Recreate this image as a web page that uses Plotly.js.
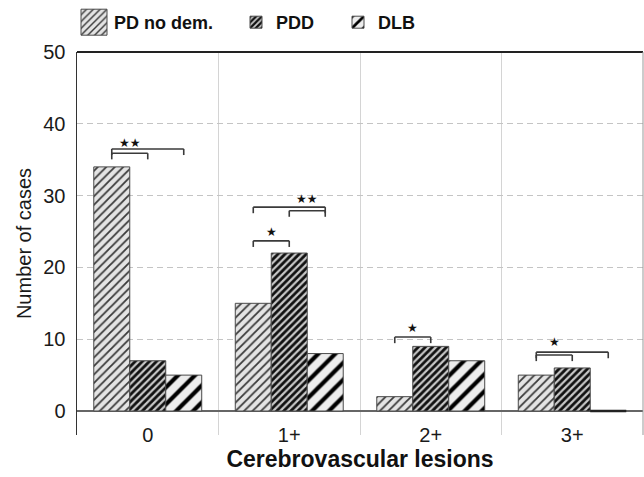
<!DOCTYPE html>
<html>
<head>
<meta charset="utf-8">
<script src="https://cdn.plot.ly/plotly-3.0.1.min.js"></script>
<style>html,body{margin:0;padding:0;background:#fff;}#chart{width:644px;height:477px;}</style>
</head>
<body>
<div id="chart"></div>
<script>
// ---- data ----
const categories = ['0', '1+', '2+', '3+'];
const seriesNames = ['PD no dem.', 'PDD', 'DLB'];
const pdNoDem = [34, 15, 2, 5];
const pdd = [7, 22, 9, 6];
const dlb = [5, 8, 7, 0];

// significance brackets: category, series index from/to, level (cases)
const bracketCat = ['0', '0', '1+', '1+', '1+', '2+', '3+', '3+'];
const bracketFrom = [0, 0, 0, 1, 0, 0, 0, 0];
const bracketTo = [2, 1, 2, 2, 1, 1, 2, 1];
const bracketLevel = [36.5, 35.9, 28.4, 27.9, 23.7, 10.3, 8.2, 7.8];

// star labels: text, category, between series from/to, level
const starText = ['★★', '★★', '★', '★', '★'];
const starCat = ['0', '1+', '1+', '2+', '3+'];
const starFrom = [0, 1, 0, 0, 0];
const starTo = [1, 2, 1, 1, 1];
const starLevel = [37.3, 29.5, 24.9, 11.6, 9.6];

// ---- styles ----
const patterns = [
  {shape: '/', fgcolor: '#3a3a3a', bgcolor: '#e4e4e4', size: 6, solidity: 0.3},
  {shape: '/', fgcolor: '#111111', bgcolor: '#c8c8c8', size: 5, solidity: 0.55},
  {shape: '/', fgcolor: '#000000', bgcolor: '#ededed', size: 12, solidity: 0.35}
];
const values = [pdNoDem, pdd, dlb];
const legendIds = ['legend', 'legend2', 'legend3'];
const legendX = [74, 236, 338];
const bargap = 0.237;

const traces = seriesNames.map((name, i) => ({
  type: 'bar', name: name, x: categories, y: values[i],
  legend: legendIds[i],
  marker: {color: patterns[i].bgcolor, pattern: patterns[i], line: {color: '#4a4a4a', width: 1}},
  hoverinfo: 'skip'
}));

const barW = (1 - bargap) / 3;
function xPos(cat, s) { return categories.indexOf(cat) + (s - 1) * barW; }

const shapes = [];
// zero-valued bars are drawn as a flat outline at the baseline
values.forEach((vals, s) => vals.forEach((v, c) => {
  if (v === 0) {
    const xc = xPos(categories[c], s);
    shapes.push({type: 'line', xref: 'x', yref: 'y', x0: xc - barW / 2, x1: xc + barW / 2, y0: v, y1: v,
      line: {color: '#222', width: 2.5}});
  }
}));
const tick = 0.85;
const lineStyle = {color: '#3a3a3a', width: 1.6};
for (let k = 0; k < bracketCat.length; k++) {
  const xa = xPos(bracketCat[k], bracketFrom[k]);
  const xb = xPos(bracketCat[k], bracketTo[k]);
  const y = bracketLevel[k];
  shapes.push({type: 'line', xref: 'x', yref: 'y', x0: xa, x1: xa, y0: y - tick, y1: y, line: lineStyle});
  shapes.push({type: 'line', xref: 'x', yref: 'y', x0: xa, x1: xb, y0: y, y1: y, line: lineStyle});
  shapes.push({type: 'line', xref: 'x', yref: 'y', x0: xb, x1: xb, y0: y - tick, y1: y, line: lineStyle});
}
// frame: top and right
shapes.push({type: 'line', xref: 'paper', yref: 'paper', x0: 0, x1: 1, y0: 1, y1: 1, line: {color: '#222', width: 2}});
shapes.push({type: 'line', xref: 'paper', yref: 'paper', x0: 1, x1: 1, y0: 0, y1: 1, line: {color: '#999', width: 1}});

const annotations = starText.map((t, k) => ({
  text: t, xref: 'x', yref: 'y',
  x: (xPos(starCat[k], starFrom[k]) + xPos(starCat[k], starTo[k])) / 2,
  y: starLevel[k], showarrow: false, xanchor: 'center', yanchor: 'middle',
  font: {family: 'DejaVu Sans', size: 12, color: '#111'}
}));

function legendCfg(px) {
  return {
    orientation: 'h', xref: 'container', yref: 'container',
    x: px / 644, y: 1 - 22.5 / 477, xanchor: 'left', yanchor: 'middle',
    bgcolor: 'rgba(0,0,0,0)', borderwidth: 0,
    font: {family: 'Liberation Sans, Arial, sans-serif', size: 18, weight: 'bold', color: '#111'}
  };
}

const layout = {
  width: 644, height: 477,
  margin: {l: 77, r: 1, t: 52, b: 42, pad: 0},
  paper_bgcolor: '#ffffff', plot_bgcolor: '#ffffff',
  font: {family: 'Liberation Sans, Arial, sans-serif', color: '#1a1a1a', size: 20},
  barmode: 'group', bargap: bargap, bargroupgap: 0,
  showlegend: true,
  legend: legendCfg(legendX[0]),
  legend2: legendCfg(legendX[1]),
  legend3: legendCfg(legendX[2]),
  xaxis: {
    type: 'category', categoryorder: 'array', categoryarray: categories,
    tickson: 'boundaries', showgrid: true, gridcolor: '#d4d4d4', gridwidth: 1,
    ticks: '', showline: false, zeroline: false,
    tickfont: {size: 20, color: '#1a1a1a'}, ticklabelstandoff: -14,
    automargin: false,
    title: {text: 'Cerebrovascular lesions', font: {size: 23, weight: 'bold', color: '#111'}, standoff: 5}
  },
  yaxis: {
    range: [-3.34, 50], tickvals: [0, 10, 20, 30, 40, 50],
    showgrid: true, gridcolor: '#c4c4c4', griddash: '6px,4px', gridwidth: 1,
    zeroline: true, zerolinecolor: '#666', zerolinewidth: 1.5,
    showline: true, linecolor: '#333', linewidth: 1.5,
    ticks: '', ticklabelstandoff: 6,
    tickfont: {size: 20, color: '#1a1a1a'},
    automargin: false,
    title: {text: 'Number of cases', font: {size: 20, color: '#1a1a1a'}, standoff: 6}
  },
  shapes: shapes,
  annotations: annotations,
  hovermode: false
};

Plotly.newPlot('chart', traces, layout, {displayModeBar: false, staticPlot: true}).then(() => {
  document.querySelectorAll('.legend .legendpoints path').forEach(p => {
    p.setAttribute('d', 'M13,13H-13V-13H13Z');
  });
});
</script>
</body>
</html>
